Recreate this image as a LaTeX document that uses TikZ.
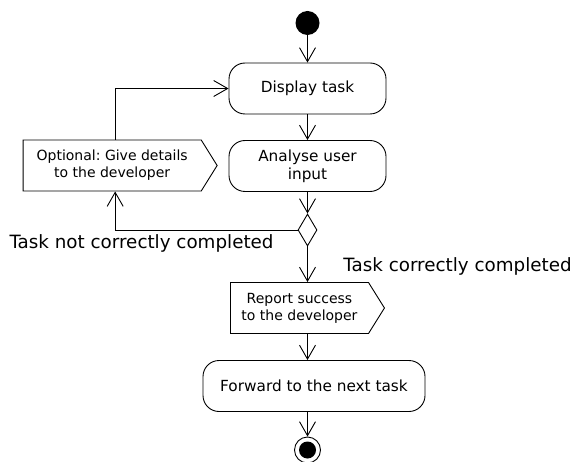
\documentclass[tikz,border=0pt]{standalone}
\usepackage{fontspec}
\setmainfont{DejaVu Sans}
\usetikzlibrary{arrows.meta,shapes.geometric,shapes.symbols}
\frenchspacing

\begin{document}
\begin{tikzpicture}[x=1pt, y=-1pt, line width=0.9pt,
    action/.style={draw, rounded corners=16pt, minimum height=51pt, align=center,
      font=\fontsize{15.3}{18}\selectfont},
    sendbox/.style={draw, signal, signal to=east, signal pointer angle=116,
      minimum height=51pt, align=center, font=\fontsize{14}{17}\selectfont},
    flow/.style={-{Straight Barb[length=14pt, width=16pt]}},
    guard/.style={font=\fontsize{18.3}{21}\selectfont, inner sep=0pt}]

  \useasboundingbox (0,0) rectangle (572,462);

  \node[circle, fill, minimum size=24pt, inner sep=0pt] (start) at (307.5,23) {};

  \node[action, minimum width=157pt] (display) at (307.5,88.5) {Display task};

  \node[action, minimum width=157pt] (analyse) at (307.5,166) {Analyse user\\input};

  \node[draw, diamond, minimum width=19pt, minimum height=32pt, inner sep=0pt] (decision) at (307.5,230) {};

  \node[sendbox, minimum width=194pt, anchor=west] (details) at (22.7,165.5) {Optional: Give details\\to the developer};

  \node[sendbox, minimum width=154pt, anchor=west] (report) at (230,308) {Report success\\to the developer};

  \node[action, minimum width=222pt] (forward) at (314,386) {Forward to the next task};

  \node[circle, draw, minimum size=26pt, inner sep=0pt,
    path picture={\fill (path picture bounding box.center) circle (8.5pt);}] (finish) at (307.5,450) {};

  \node[guard, anchor=east] (notdone) at (274,243) {Task not correctly completed};
  \node[guard, anchor=west] (done) at (343,266) {Task correctly completed};

  \draw[flow] (start) -- (display);
  \draw[flow] (display) -- (analyse);
  \draw[flow] (analyse) -- (decision);
  \draw[flow] (decision.west) -| ([xshift=3pt]details.south);
  \draw[flow] ([xshift=3pt]details.north) |- (display.west);
  \draw[flow] (decision.south) -- (decision.south |- report.north);
  \draw[flow] (decision |- report.south) -- (decision |- forward.north);
  \draw[flow] (forward.south -| finish) -- (finish);

\end{tikzpicture}
\end{document}
